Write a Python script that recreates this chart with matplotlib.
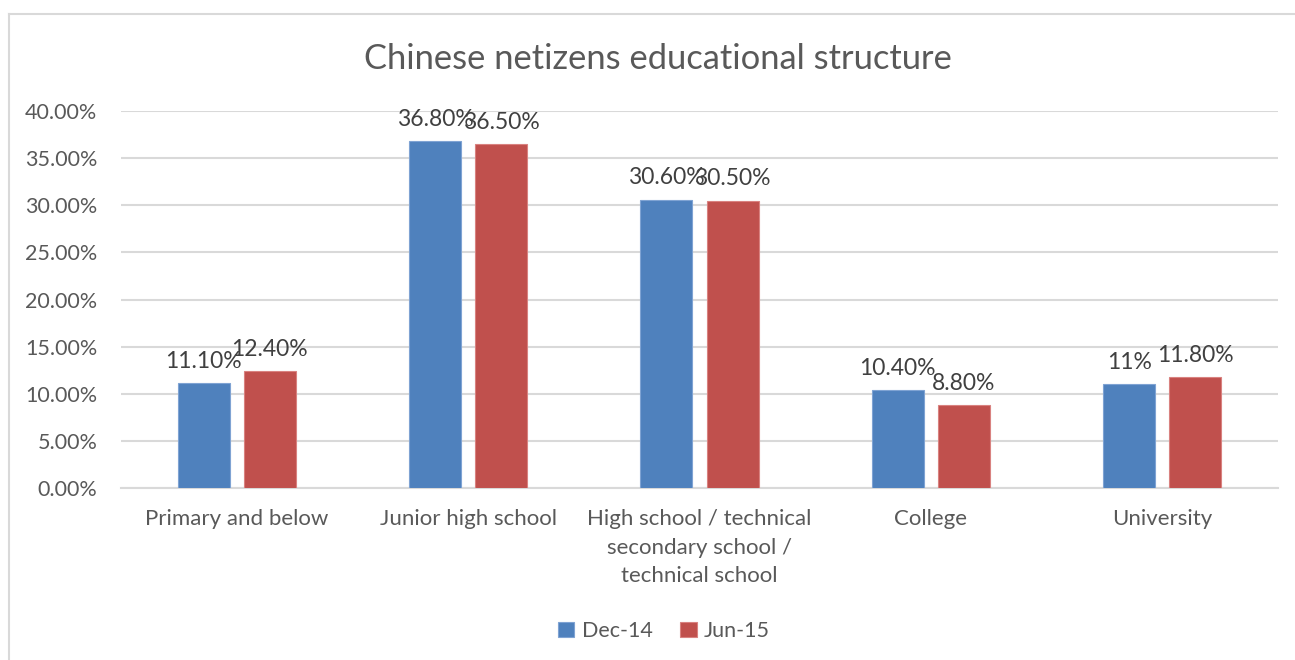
import matplotlib
matplotlib.use("Agg")
import matplotlib.pyplot as plt
from matplotlib.lines import Line2D
from matplotlib.ticker import FuncFormatter
import numpy as np

categories = ["Primary and below", "Junior high school",
              "High school / technical\nsecondary school /\ntechnical school",
              "College", "University"]
series_names = ["Dec-14", "Jun-15"]
dec14 = [11.10, 36.80, 30.60, 10.40, 11.0]
jun15 = [12.40, 36.50, 30.50, 8.80, 11.80]
dec14_labels = ["11.10%", "36.80%", "30.60%", "10.40%", "11%"]
jun15_labels = ["12.40%", "36.50%", "30.50%", "8.80%", "11.80%"]
yticks = [0, 5, 10, 15, 20, 25, 30, 35, 40]

plt.rcParams["font.family"] = ["Lato", "DejaVu Sans"]

W, H, DPI = 1295, 660, 100
fig = plt.figure(figsize=(W / DPI, H / DPI), dpi=DPI)
fig.patch.set_facecolor("white")

# chart frame (top and left edges visible)
frame_col = "#D9D9D9"
fig.add_artist(Line2D([8.5 / W, 1.0], [1 - 13.5 / H, 1 - 13.5 / H],
                      transform=fig.transFigure, color=frame_col, lw=1.5))
fig.add_artist(Line2D([8.5 / W, 8.5 / W], [0, 1 - 13.5 / H],
                      transform=fig.transFigure, color=frame_col, lw=1.5))

left, right = 121 / W, 1278 / W
bottom, top = 1 - 488 / H, 1 - 111 / H
ax = fig.add_axes([left, bottom, right - left, top - bottom])

x = np.arange(len(categories))
bw = 0.225
off = 0.143
blue, red = "#4F81BD", "#C0504D"
b1 = ax.bar(x - off, dec14, bw, color=blue, edgecolor="#7FA3D3", lw=0.8,
            label=series_names[0], zorder=3)
b2 = ax.bar(x + off, jun15, bw, color=red, edgecolor="#D98280", lw=0.8,
            label=series_names[1], zorder=3)

lab_col = "#404040"
for xs, vals, labs in [(x - off, dec14, dec14_labels), (x + off, jun15, jun15_labels)]:
    for xi, v, t in zip(xs, vals, labs):
        ax.annotate(t, (xi, v), xytext=(0, 8), textcoords="offset points",
                    ha="center", va="bottom", fontsize=16.5, color=lab_col, zorder=4)

ax.set_xlim(-0.5, len(categories) - 0.5)
ax.set_ylim(0, 40)
ax.set_yticks(yticks)
ax.yaxis.set_major_formatter(FuncFormatter(lambda v, p: f"{v:.2f}%"))
ax.set_xticks(x)
ax.set_xticklabels(categories, linespacing=1.55)
ax.tick_params(axis="y", length=0, labelsize=15.5, labelcolor="#595959", pad=17)
ax.tick_params(axis="x", length=0, labelsize=16, labelcolor="#595959", pad=15)
for lab in ax.get_xticklabels():
    lab.set_verticalalignment("top")

ax.grid(axis="y", color="#D9D9D9", lw=1.5, zorder=0)
for s in ["top", "right", "left"]:
    ax.spines[s].set_visible(False)
ax.spines["bottom"].set_color("#D9D9D9")
ax.spines["bottom"].set_linewidth(1.5)
ax.set_facecolor("none")

fig.text(658 / W, 1 - 59 / H, "Chinese netizens educational structure",
         ha="center", va="center", fontsize=24.8, color="#595959")

fig.legend(handles=[b1, b2], labels=series_names, loc="center",
           bbox_to_anchor=(664 / W, 1 - 631 / H), ncol=2, frameon=False,
           fontsize=15.5, labelcolor="#595959", handlelength=0.75, handleheight=0.75,
           handletextpad=0.35, columnspacing=1.3)

fig.savefig("out.png", dpi=DPI)
